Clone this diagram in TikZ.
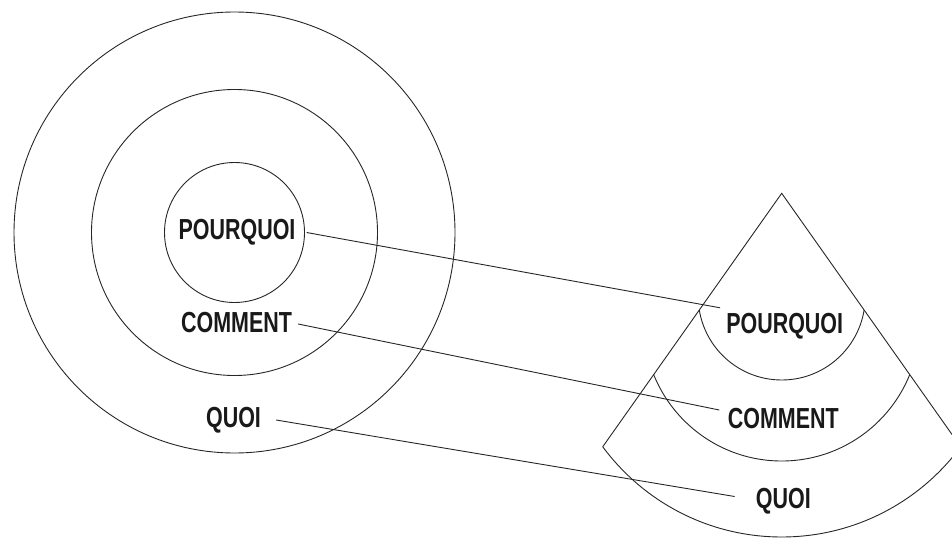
\documentclass[tikz,border=0pt]{standalone}
\usepackage{fontspec}
\newfontfamily\lblfont{Liberation Sans}[FakeStretch=0.74]
\usetikzlibrary{calc}
\begin{document}
\begin{tikzpicture}[x=1pt,y=-1pt,
  ln/.style={line width=0.9pt, draw=black!85},
  lbl/.style={font=\lblfont\bfseries\fontsize{29}{29}\selectfont, inner sep=0pt, text height=21pt, text depth=0pt, text=black!90}]
\useasboundingbox (0,0) rectangle (952,540);
% concentric circles
\coordinate (cc) at (234.5,232.5);
\draw[ln] (cc) circle[radius=220.5];
\draw[ln] (cc) circle[radius=143];
\draw[ln] (cc) circle[radius=70];
% left labels
\node[lbl] (p1) at (237,228.5) {POURQUOI};
\node[lbl] (c1) at (236.5,322.4) {COMMENT};
\node[lbl] (q1) at (233.5,416.6) {QUOI};
% cone
\coordinate (apex) at (781.7,193.3);
\coordinate (lc) at (602.7,446.8);
\coordinate (rc) at (960.7,446.8);
\draw[ln] (lc) -- (apex) -- (rc);
\begin{scope}
  \clip (apex) -- (499.3,593.3) -- (1064.1,593.3) -- cycle;
  \clip (480,314.4) rectangle (1100,620);
  \draw[ln] (781.7,314.4) circle[radius=222.6];
\end{scope}
\begin{scope}
  \clip (apex) -- (499.3,593.3) -- (1064.1,593.3) -- cycle;
  \clip (480,323) rectangle (1100,620);
  \draw[ln] (781.7,323) circle[radius=138];
\end{scope}
\begin{scope}
  \clip (apex) -- (499.3,593.3) -- (1064.1,593.3) -- cycle;
  \clip (480,296.5) rectangle (1100,620);
  \draw[ln] (781.7,296.5) circle[radius=83.5];
\end{scope}
% right labels
\node[lbl] (p2) at (784.7,322.8) {POURQUOI};
\node[lbl] (c2) at (783.3,417.5) {COMMENT};
\node[lbl] (q2) at (783.3,497.5) {QUOI};
% connectors
\draw[ln] ($(p1.east)+(11,4)$) -- ($(p2.west)+(-6,-15)$);
\draw[ln] ($(c1.east)+(6,1.6)$) -- ($(c2.west)+(-8.4,-7.5)$);
\draw[ln] ($(q1.east)+(15,3.4)$) -- ($(q2.west)+(-21,-1)$);
\end{tikzpicture}
\end{document}
